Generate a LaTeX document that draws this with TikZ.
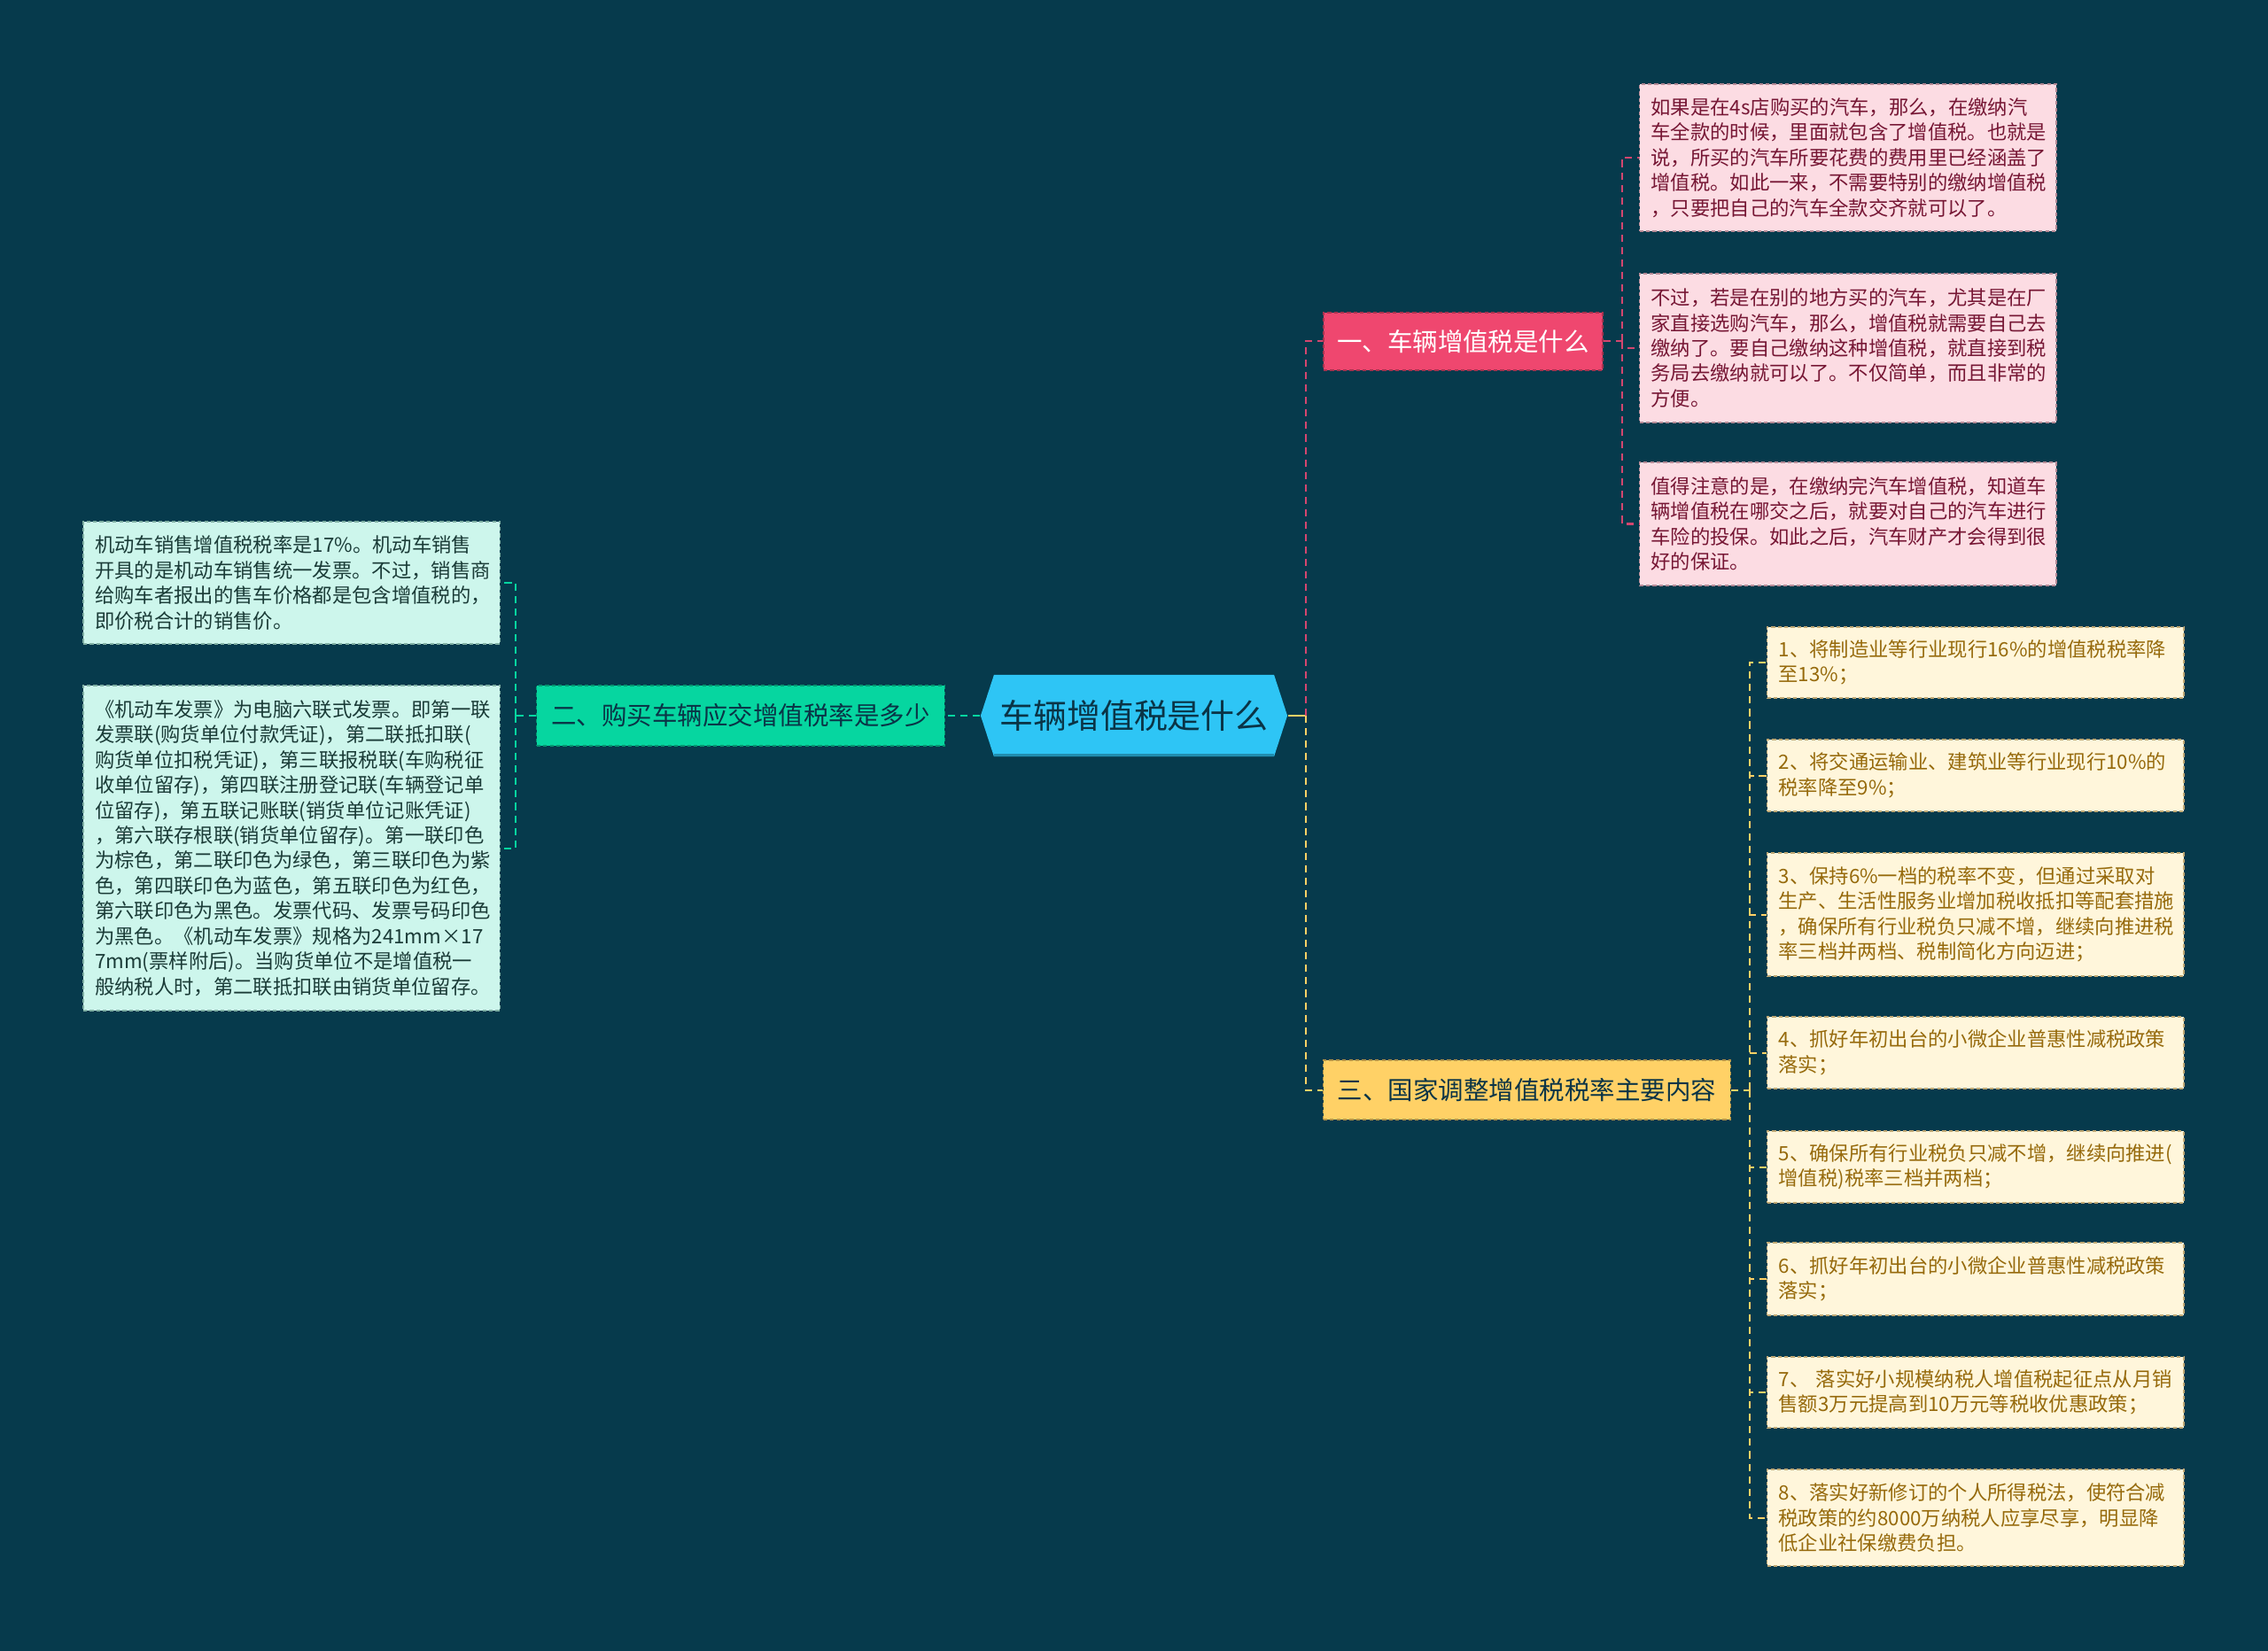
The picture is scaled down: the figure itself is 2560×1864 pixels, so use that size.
\documentclass[tikz,border=0pt]{standalone}
\usepackage{fontspec}
\newfontfamily\cjk{Noto Sans CJK SC}
\usetikzlibrary{calc,positioning}
\definecolor{night}{HTML}{063A4C}
\definecolor{sky}{HTML}{2EC5F5}
\definecolor{ink}{HTML}{0A3446}
\definecolor{rose}{HTML}{EF476F}
\definecolor{roseline}{HTML}{D4466F}
\definecolor{mint}{HTML}{06D6A0}
\definecolor{sun}{HTML}{FFD166}
\definecolor{rosepale}{HTML}{FCDCE3}
\definecolor{rosetext}{HTML}{761634}
\definecolor{rosedash}{HTML}{B58A96}
\definecolor{mintpale}{HTML}{CDF6EC}
\definecolor{minttext}{HTML}{1A3B37}
\definecolor{mintdash}{HTML}{7FAFA3}
\definecolor{sunpale}{HTML}{FFF6DB}
\definecolor{suntext}{HTML}{966A0C}
\definecolor{sundash}{HTML}{BFA874}
\tikzset{
  hub/.style={
    minimum width=3.46cm,
    minimum height=0.92cm,
    inner sep=0pt,
    text=ink,
    font=\cjk\fontsize{10.8}{13}\selectfont,
    path picture={
      \fill[sky] (path picture bounding box.west)
        -- ($(path picture bounding box.north west)+(15,0)$)
        -- ($(path picture bounding box.north east)+(-15,0)$)
        -- (path picture bounding box.east)
        -- ($(path picture bounding box.south east)+(-15,0)$)
        -- ($(path picture bounding box.south west)+(15,0)$) -- cycle;
      \draw[sky!72!black, line width=1pt]
        ($(path picture bounding box.south west)+(15,-1.5)$)
        -- ($(path picture bounding box.south east)+(-15,-1.5)$);
    }
  },
  branch/.style={
    draw,
    dash pattern=on 1.2pt off 0.9pt,
    line width=0.35pt,
    inner sep=0pt,
    font=\cjk\fontsize{8.1}{10}\selectfont
  },
  leaf/.style={
    draw,
    dash pattern=on 1.2pt off 0.9pt,
    line width=0.35pt,
    text width=4.44cm,
    inner xsep=0.13cm,
    inner ysep=0.05cm,
    align=left,
    font=\cjk\fontsize{6.35}{8.1}\selectfont
  },
  pinkleaf/.style={leaf, anchor=west, fill=rosepale, draw=rosedash, text=rosetext},
  greenleaf/.style={leaf, anchor=east, fill=mintpale, draw=mintdash, text=minttext},
  goldleaf/.style={leaf, anchor=west, fill=sunpale, draw=sundash, text=suntext},
  link/.style={
    line width=0.57pt,
    dash pattern=on 2.3pt off 1.7pt
  }
}

\begin{document}
\begin{tikzpicture}[x=0.01cm, y=-0.01cm]
  \fill[night] (0,0) rectangle (2560,1864);
  \useasboundingbox (0,0) rectangle (2560,1864);

  % centre and main branches
  \node[hub] (root) at (1280,808) {车辆增值税是什么};
  \node[branch, fill=rose, draw=rose!70!black, text=white,
    minimum width=3.15cm, minimum height=0.65cm] (what) at (1651.5,385.5)
    {一、车辆增值税是什么};
  \node[branch, fill=mint, draw=mint!70!black, text=ink,
    minimum width=4.6cm, minimum height=0.68cm] (rate) at (836,808)
    {二、购买车辆应交增值税率是多少};
  \node[branch, fill=sun, draw=sun!70!black, text=ink,
    minimum width=4.59cm, minimum height=0.67cm] (adjust) at (1723.5,1230.5)
    {三、国家调整增值税税率主要内容};

  % pink leaves
  \node[pinkleaf, minimum height=1.66cm] (what1) at (1850,178)
    {如果是在4s店购买的汽车，那么，在缴纳汽\\车全款的时候，里面就包含了增值税。也就是\\说，所买的汽车所要花费的费用里已经涵盖了\\增值税。如此一来，不需要特别的缴纳增值税\\，只要把自己的汽车全款交齐就可以了。};
  \node[pinkleaf, minimum height=1.68cm] (what2) at (1850,393)
    {不过，若是在别的地方买的汽车，尤其是在厂\\家直接选购汽车，那么，增值税就需要自己去\\缴纳了。要自己缴纳这种增值税，就直接到税\\务局去缴纳就可以了。不仅简单，而且非常的\\方便。};
  \node[pinkleaf, minimum height=1.39cm] (what3) at (1850,591.5)
    {值得注意的是，在缴纳完汽车增值税，知道车\\辆增值税在哪交之后，就要对自己的汽车进行\\车险的投保。如此之后，汽车财产才会得到很\\好的保证。};

  % green leaves
  \node[greenleaf, minimum height=1.38cm] (rate1) at (565,658)
    {机动车销售增值税税率是17\%。机动车销售\\开具的是机动车销售统一发票。不过，销售商\\给购车者报出的售车价格都是包含增值税的，\\即价税合计的销售价。};
  \node[greenleaf, minimum height=3.67cm] (rate2) at (565,957.5)
    {《机动车发票》为电脑六联式发票。即第一联\\发票联(购货单位付款凭证)，第二联抵扣联(\\购货单位扣税凭证)，第三联报税联(车购税征\\收单位留存)，第四联注册登记联(车辆登记单\\位留存)，第五联记账联(销货单位记账凭证)\\，第六联存根联(销货单位留存)。第一联印色\\为棕色，第二联印色为绿色，第三联印色为紫\\色，第四联印色为蓝色，第五联印色为红色，\\第六联印色为黑色。发票代码、发票号码印色\\为黑色。《机动车发票》规格为241mm×17\\7mm(票样附后)。当购货单位不是增值税一\\般纳税人时，第二联抵扣联由销货单位留存。};

  % gold leaves
  \node[goldleaf, minimum height=0.8cm] (adj1) at (1994,748)
    {1、将制造业等行业现行16\%的增值税税率降\\至13\%；};
  \node[goldleaf, minimum height=0.81cm] (adj2) at (1994,875.5)
    {2、将交通运输业、建筑业等行业现行10\%的\\税率降至9\%；};
  \node[goldleaf, minimum height=1.39cm] (adj3) at (1994,1032.5)
    {3、保持6\%一档的税率不变，但通过采取对\\生产、生活性服务业增加税收抵扣等配套措施\\，确保所有行业税负只减不增，继续向推进税\\率三档并两档、税制简化方向迈进；};
  \node[goldleaf, minimum height=0.81cm] (adj4) at (1994,1188.5)
    {4、抓好年初出台的小微企业普惠性减税政策\\落实；};
  \node[goldleaf, minimum height=0.81cm] (adj5) at (1994,1317.5)
    {5、确保所有行业税负只减不增，继续向推进(\\增值税)税率三档并两档；};
  \node[goldleaf, minimum height=0.82cm] (adj6) at (1994,1444)
    {6、抓好年初出台的小微企业普惠性减税政策\\落实；};
  \node[goldleaf, minimum height=0.8cm] (adj7) at (1994,1572)
    {7、 落实好小规模纳税人增值税起征点从月销\\售额3万元提高到10万元等税收优惠政策；};
  \node[goldleaf, minimum height=1.09cm] (adj8) at (1994,1713.5)
    {8、落实好新修订的个人所得税法，使符合减\\税政策的约8000万纳税人应享尽享，明显降\\低企业社保缴费负担。};

  % junctions
  \coordinate (rootjoin) at ($(root.east)+(20,0)$);
  \coordinate (whatjoin) at ($(what.east)+(21,0)$);
  \coordinate (ratejoin) at ($(rate.west)+(-23,0)$);
  \coordinate (adjustjoin) at ($(adjust.east)+(21,0)$);

  % connectors
  \draw[sun, line width=0.57pt] (root.east) -- (rootjoin);
  \draw[link, roseline] (rootjoin) |- (what.west);
  \draw[link, sun] (rootjoin) |- (adjust.west);
  \draw[link, mint] (root.west) -- (rate.east);

  \draw[link, roseline] (what.east) -- (whatjoin);
  \draw[link, roseline] (whatjoin) |- (what1.west);
  \draw[link, roseline] (whatjoin) |- (what2.west);
  \draw[link, roseline] (whatjoin) |- (what3.west);

  \draw[link, mint] (rate.west) -- (ratejoin);
  \draw[link, mint] (ratejoin) |- (rate1.east);
  \draw[link, mint] (ratejoin) |- (rate2.east);

  \draw[link, sun] (adjust.east) -- (adjustjoin);
  \draw[link, sun] (adjustjoin) |- (adj1.west);
  \draw[link, sun] (adjustjoin) |- (adj2.west);
  \draw[link, sun] (adjustjoin) |- (adj3.west);
  \draw[link, sun] (adjustjoin) |- (adj4.west);
  \draw[link, sun] (adjustjoin) |- (adj5.west);
  \draw[link, sun] (adjustjoin) |- (adj6.west);
  \draw[link, sun] (adjustjoin) |- (adj7.west);
  \draw[link, sun] (adjustjoin) |- (adj8.west);
\end{tikzpicture}
\end{document}
